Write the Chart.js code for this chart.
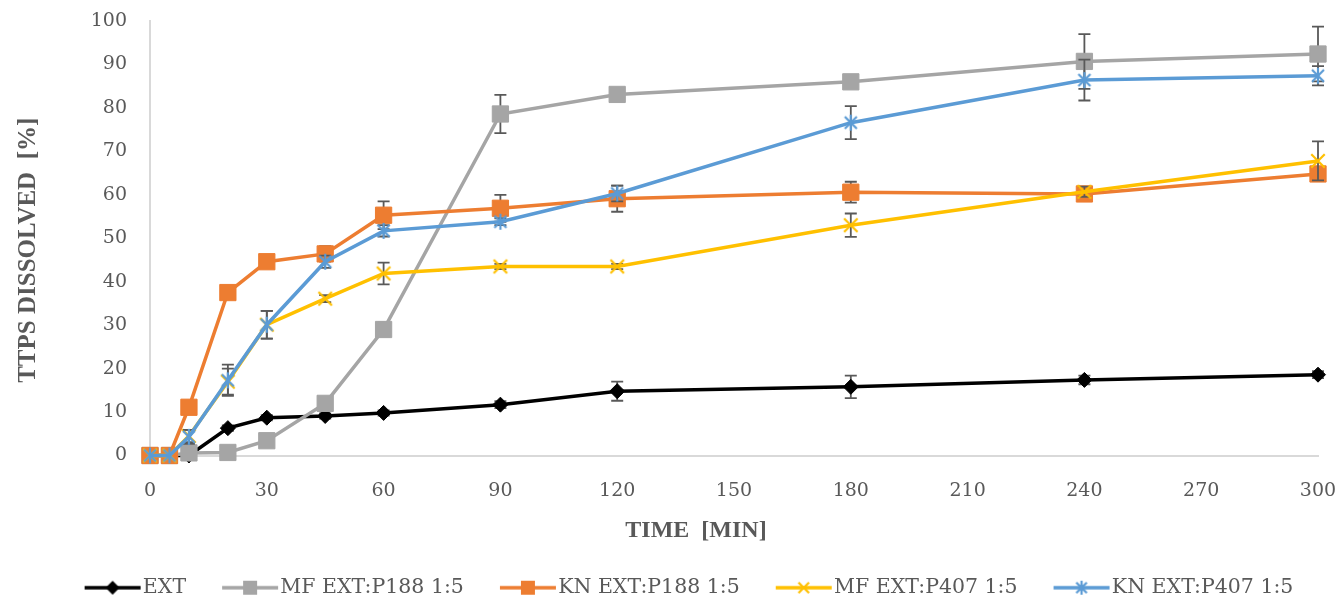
<!DOCTYPE html>
<html>
<head>
<meta charset="utf-8">
<script src="https://cdn.jsdelivr.net/npm/chart.js@4.4.1/dist/chart.umd.min.js"></script>
<style>
    html, body { margin: 0; padding: 0; background: #fff; }
    #wrap { width: 1339px; height: 602px; }
</style>
</head>
<body>
<div id="wrap"><canvas id="chart" width="1339" height="602"></canvas></div>
<script>
// sampling times [min]
const times = [0, 5, 10, 20, 30, 45, 60, 90, 120, 180, 240, 300];

const seriesNames = ['EXT', 'MF EXT:P188 1:5', 'KN EXT:P188 1:5', 'MF EXT:P407 1:5', 'KN EXT:P407 1:5'];

const extValues = [0, 0, 0, 6.3, 8.7, 9.1, 9.8, 11.7, 14.8, 15.8, 17.4, 18.6];
const extErrors = [0, 0, 0, 0.6, 0.6, 0.6, 0.6, 0.8, 2.2, 2.6, 1, 0.8];

const mfP188Values = [0, 0, 0.6, 0.7, 3.4, 12, 29, 78.6, 83.1, 86, 90.7, 92.4];
const mfP188Errors = [0, 0, 0, 0, 0.5, 0.8, 1.6, 4.4, 0.8, 0.9, 6.3, 6.3];

const knP188Values = [0, 0, 11.1, 37.5, 44.6, 46.4, 55.3, 56.9, 59.1, 60.6, 60.2, 64.8];
const knP188Errors = [0, 0, 0.8, 0.8, 0.8, 1.8, 3.2, 3.1, 3, 2.4, 1.5, 1];

const mfP407Values = [0, 0, 4.5, 17, 30.1, 36.1, 41.9, 43.5, 43.5, 53, 60.7, 67.8];
const mfP407Errors = [0, 0, 1.4, 3, 3.2, 0.8, 2.5, 0.6, 0.6, 2.7, 1.2, 4.5];

const knP407Values = [0, 0, 4.3, 17.3, 30.1, 44.6, 51.7, 53.8, 60.3, 76.6, 86.4, 87.4];
const knP407Errors = [0, 0, 1.6, 3.6, 3.2, 1.4, 1.3, 0.8, 1.8, 3.8, 4.7, 2.2];

const xTickValues = [0, 30, 60, 90, 120, 150, 180, 210, 240, 270, 300];
const yTickValues = [0, 10, 20, 30, 40, 50, 60, 70, 80, 90, 100];

const textColor = '#595959';
const axisColor = '#d9d9d9';
const serif = "'DejaVu Serif', 'Liberation Serif', serif";
const titleSerif = "'Liberation Serif', 'DejaVu Serif', serif";

function markerCanvas(kind, color, size) {
    const c = document.createElement('canvas');
    c.width = size;
    c.height = size;
    const ctx = c.getContext('2d');
    const m = size / 2;
    const r = size / 2 - 2;
    ctx.strokeStyle = color;
    ctx.lineWidth = 2.2;
    ctx.beginPath();
    ctx.moveTo(m - r * 0.75, m - r * 0.75);
    ctx.lineTo(m + r * 0.75, m + r * 0.75);
    ctx.moveTo(m + r * 0.75, m - r * 0.75);
    ctx.lineTo(m - r * 0.75, m + r * 0.75);
    if (kind === 'star') {
        ctx.moveTo(m, m - r);
        ctx.lineTo(m, m + r);
    }
    ctx.stroke();
    return c;
}

// legend swatch: a short line with the marker in the middle
function legendIcon(color, drawMarker) {
    const c = document.createElement('canvas');
    c.width = 96;
    c.height = 24;
    const ctx = c.getContext('2d');
    ctx.strokeStyle = color;
    ctx.lineWidth = 3.5;
    ctx.beginPath();
    ctx.moveTo(39, 12);
    ctx.lineTo(95, 12);
    ctx.stroke();
    ctx.fillStyle = color;
    drawMarker(ctx, 67, 12);
    return c;
}

const starMarker = markerCanvas('star', '#5b9bd5', 20);
const xMarker = markerCanvas('x', '#ffc000', 22);

const legendIcons = [
    legendIcon('#000000', (ctx, x, y) => {
        ctx.beginPath();
        ctx.moveTo(x, y - 7); ctx.lineTo(x + 7, y); ctx.lineTo(x, y + 7); ctx.lineTo(x - 7, y);
        ctx.closePath(); ctx.fill();
    }),
    legendIcon('#a5a5a5', (ctx, x, y) => ctx.fillRect(x - 7, y - 7, 14, 14)),
    legendIcon('#ed7d31', (ctx, x, y) => ctx.fillRect(x - 7, y - 7, 14, 14)),
    legendIcon('#ffc000', (ctx, x, y) => ctx.drawImage(markerCanvas('x', '#ffc000', 18), x - 9, y - 9)),
    legendIcon('#5b9bd5', (ctx, x, y) => ctx.drawImage(markerCanvas('star', '#5b9bd5', 18), x - 9, y - 9)),
];

function points(values) {
    return values.map((v, i) => ({ x: times[i], y: v }));
}

function series(index, values, errors, color, pointStyle, radius) {
    return {
        label: seriesNames[index],
        data: points(values),
        errors,
        borderColor: color,
        backgroundColor: color,
        borderWidth: 3.5,
        pointStyle,
        pointRadius: radius,
        pointHoverRadius: radius,
        pointBorderWidth: 1,
        pointBorderColor: color,
        pointBackgroundColor: color,
        tension: 0,
        clip: false,
        order: 5 - index,
    };
}

const errorBars = {
    id: 'errorBars',
    beforeDatasetDraw(chart, args) {
        const ds = chart.data.datasets[args.index];
        if (!ds.errors) return;
        const { ctx, scales: { x, y } } = chart;
        ctx.save();
        ctx.strokeStyle = textColor;
        ctx.lineWidth = 1.8;
        ds.data.forEach((p, i) => {
            const e = ds.errors[i];
            if (!e) return;
            const px = x.getPixelForValue(p.x);
            const top = y.getPixelForValue(p.y + e);
            const bottom = y.getPixelForValue(p.y - e);
            ctx.beginPath();
            ctx.moveTo(px, top); ctx.lineTo(px, bottom);
            ctx.moveTo(px - 6, top); ctx.lineTo(px + 6, top);
            ctx.moveTo(px - 6, bottom); ctx.lineTo(px + 6, bottom);
            ctx.stroke();
        });
        ctx.restore();
    },
};

const axisTitles = {
    id: 'axisTitles',
    afterDraw(chart) {
        const { ctx, chartArea } = chart;
        ctx.save();
        ctx.fillStyle = textColor;
        ctx.textAlign = 'center';
        ctx.textBaseline = 'middle';
        ctx.font = `bold 24px ${titleSerif}`;
        ctx.fillText('TIME  [MIN]', chartArea.left + chartArea.width / 2 - 38, chartArea.bottom + 75);
        ctx.font = `bold 25px ${titleSerif}`;
        ctx.translate(29, chartArea.top + chartArea.height / 2 + 12);
        ctx.rotate(-Math.PI / 2);
        ctx.fillText('TTPS DISSOLVED  [%]', 0, 0);
        ctx.restore();
    },
};

new Chart(document.getElementById('chart'), {
    type: 'line',
    data: {
        datasets: [
            series(0, extValues, extErrors, '#000000', 'rectRot', 7.5),
            series(1, mfP188Values, mfP188Errors, '#a5a5a5', 'rect', 11.5),
            series(2, knP188Values, knP188Errors, '#ed7d31', 'rect', 11.5),
            series(3, mfP407Values, mfP407Errors, '#ffc000', xMarker, 11),
            series(4, knP407Values, knP407Errors, '#5b9bd5', starMarker, 10),
        ],
    },
    options: {
        responsive: false,
        animation: false,
        layout: { padding: { top: 21, right: 21, bottom: -6, left: 30 } },
        scales: {
            x: {
                type: 'linear',
                min: 0,
                max: 300,
                afterBuildTicks: (scale) => { scale.ticks = xTickValues.map((v) => ({ value: v })); },
                afterFit: (scale) => {
                    scale.height = 116;
                    scale.paddingLeft = 0;
                    scale.paddingRight = 0;
                },
                grid: { display: false, drawTicks: false },
                border: { display: true, color: axisColor, width: 2 },
                ticks: { color: textColor, padding: 24, maxRotation: 0, font: { family: serif, size: 19 } },
            },
            y: {
                min: 0,
                max: 100,
                afterBuildTicks: (scale) => { scale.ticks = yTickValues.map((v) => ({ value: v })); },
                afterFit: (scale) => {
                    scale.width = 120;
                    scale.paddingTop = 0;
                    scale.paddingBottom = 0;
                },
                grid: { display: false, drawTicks: false },
                border: { display: true, color: axisColor, width: 2 },
                ticks: { color: textColor, padding: 23, font: { family: serif, size: 19 } },
            },
        },
        plugins: {
            tooltip: { enabled: false },
            legend: {
                position: 'bottom',
                labels: {
                    color: textColor,
                    padding: 6,
                    usePointStyle: true,
                    pointStyleWidth: 78,
                    font: { family: serif, size: 20.5 },
                    sort: (a, b) => a.datasetIndex - b.datasetIndex,
                    generateLabels: (chart) => Chart.defaults.plugins.legend.labels.generateLabels(chart)
                        .map((item) => ({ ...item, pointStyle: legendIcons[item.datasetIndex] })),
                },
            },
        },
    },
    plugins: [errorBars, axisTitles],
});
</script>
</body>
</html>
